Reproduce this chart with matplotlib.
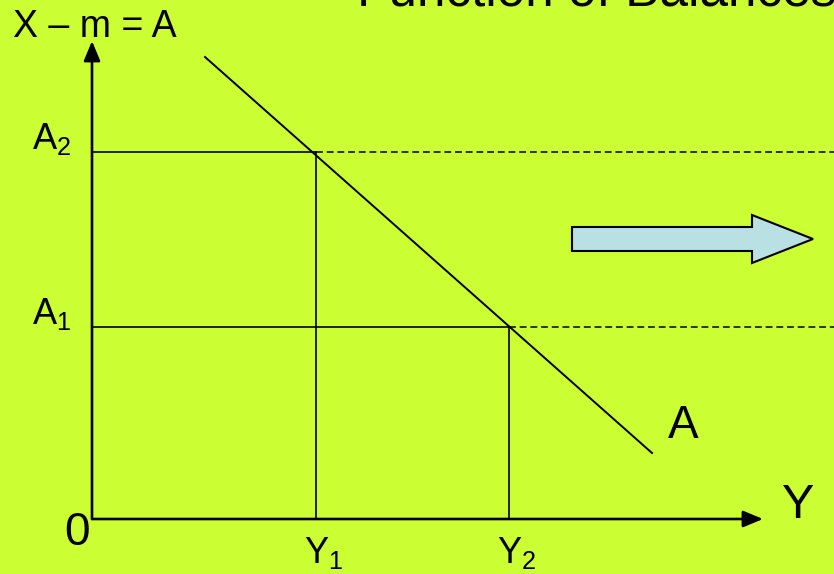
import matplotlib
matplotlib.use("Agg")
import matplotlib.pyplot as plt
from matplotlib.patches import FancyArrow

plt.rcParams['font.family'] = ['Liberation Sans', 'DejaVu Sans']
plt.rcParams['mathtext.fontset'] = 'custom'
plt.rcParams['mathtext.rm'] = 'Liberation Sans'
plt.rcParams['mathtext.it'] = 'Liberation Sans'
plt.rcParams['mathtext.default'] = 'regular'

# income levels on the Y axis and balance levels on the A axis
y_levels = [2.24, 4.17]
y_labels = ['Y$_1$', 'Y$_2$']
a_levels = [3.67, 1.92]
a_labels = ['A$_2$', 'A$_1$']

# balance function A (falls as income rises)
line_x = [1.13, 5.60]
line_y = [4.62, 0.66]

bg = '#CCFF33'

fig = plt.figure(figsize=(8.34, 5.74), dpi=100, facecolor=bg)
ax = fig.add_axes([0, 0, 1, 1])
ax.set_facecolor(bg)
ax.set_xlim(-0.92, 7.42)
ax.set_ylim(-0.55, 5.19)
ax.axis('off')

# axes with arrows
arrow = dict(arrowstyle='-|>,head_length=0.6,head_width=0.25', mutation_scale=20,
             lw=1.9, color='black', shrinkA=0, shrinkB=0)
ax.annotate('', xy=(0, 4.78), xytext=(0, 0), arrowprops=arrow)
ax.annotate('', xy=(6.71, 0), xytext=(0, 0), arrowprops=arrow)

# the A line
ax.plot(line_x, line_y, color='black', lw=1.4)

# guides from each income level
for yv, av in zip(y_levels, a_levels):
    ax.plot([0, yv], [av, av], color='black', lw=1.2)
    ax.plot([yv, yv], [0, av], color='black', lw=1.2)
    ax.plot([yv, 7.42], [av, av], color='black', lw=1.1, linestyle=(0, (4.5, 2.5)))

# labels
for yv, lab in zip(y_levels, y_labels):
    ax.text(yv - 0.12, -0.44, lab, fontsize=26, ha='left', va='baseline')
for av, lab in zip(a_levels, a_labels):
    ax.text(-0.60, av + 0.03, lab, fontsize=26, ha='left', va='baseline')

ax.text(-0.79, 4.82, 'X – m = A', fontsize=27, ha='left', va='baseline')
ax.text(2.65, 5.14, 'Function of Balances', fontsize=37, ha='left', va='baseline')
ax.text(-0.28, -0.26, '0', fontsize=33, ha='left', va='baseline')
ax.text(6.90, 0.01, 'Y', fontsize=35, ha='left', va='baseline')
ax.text(5.76, 0.81, 'A', fontsize=33, ha='left', va='baseline')

# block arrow showing the shift
ax.add_patch(FancyArrow(4.80, 2.80, 2.41, 0, width=0.24, head_width=0.48,
                        head_length=0.61, length_includes_head=True,
                        facecolor='#B9E0E3', edgecolor='black', lw=1.5))

fig.savefig('out.png', dpi=100, facecolor=bg)
